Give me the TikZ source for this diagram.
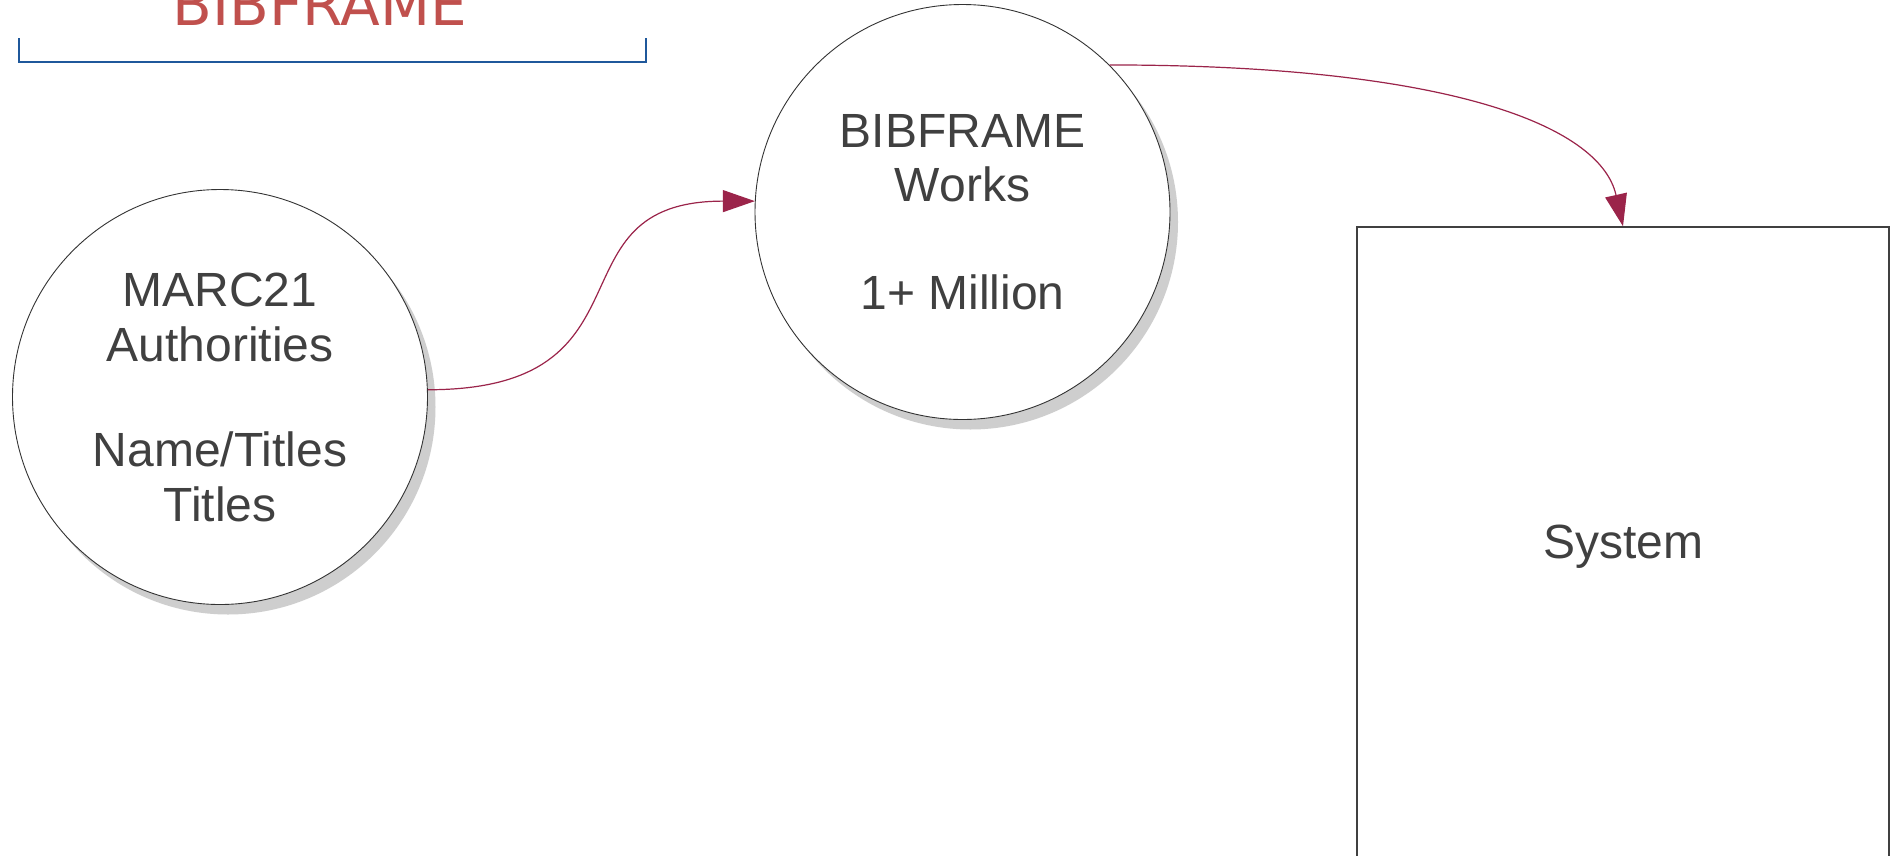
\documentclass[tikz,border=0pt]{standalone}
\usepackage{fontspec}
\setmainfont{Liberation Sans}
\newfontfamily\titlefont{DejaVu Sans}
\usetikzlibrary{arrows.meta,calc,backgrounds}
\definecolor{txtgray}{RGB}{64,64,64}
\definecolor{shadowgray}{RGB}{206,206,206}
\definecolor{arrowred}{RGB}{155,36,74}
\definecolor{titlered}{RGB}{192,80,77}
\definecolor{bracketblue}{RGB}{31,88,155}
\definecolor{edgegray}{RGB}{51,51,51}
\begin{document}
\begin{tikzpicture}[x=1pt,y=-1pt,
  bubble/.style={circle, draw=edgegray, line width=0.9pt, fill=white,
    minimum size=415pt, inner sep=0pt, text=txtgray, align=center},
  sysbox/.style={rectangle, draw=txtgray, line width=1.5pt, fill=white,
    minimum width=532pt, minimum height=630pt, inner sep=0pt, text=txtgray,
    text depth=0pt, font=\fontsize{48}{54}\selectfont},
  conn/.style={draw=arrowred, line width=1.2pt, -{Triangle[length=32pt,width=22pt]}},
  shadowc/.style={fill=shadowgray}
]
\useasboundingbox (0,0) rectangle (1896,855);

% title and bracket
\node[font=\titlefont\fontsize{58}{62}\selectfont, text=titlered, anchor=base, inner sep=0pt] (title) at (320,25) {BIBFRAME};
\draw[bracketblue, line width=2pt] (19,38) -- (19,62) -- (646,62) -- (646,38);

% nodes
\node[bubble, font=\fontsize{48}{55}\selectfont] (m) at (220,397) {MARC21\\Authorities\\[50pt]Name/Titles\\Titles};
\node[bubble, font=\fontsize{48}{54}\selectfont] (w) at (962.5,212) {BIBFRAME\\Works\\[54pt]1+ Million};
\node[sysbox] (s) at (1623,542) {System};

% page background and shadows
\begin{scope}[on background layer]
  \fill[white] (0,0) rectangle (1896,855);
  \fill[shadowc] ([shift={(8,10)}]m.center) circle[radius=207.5];
  \fill[shadowc] ([shift={(8,10)}]w.center) circle[radius=207.5];
\end{scope}

% connectors
\draw[conn] (m.2.5) .. controls ($(m.2.5)+(235,0)$) and ($(w.177.5)+(-210,0)$) .. (w.177.5);
\draw[conn] (w.45.3) .. controls ($(w.45.3)+(332,0)$) and ($(s.north)+(-23,-102.7)$) .. (s.north);
\end{tikzpicture}
\end{document}
